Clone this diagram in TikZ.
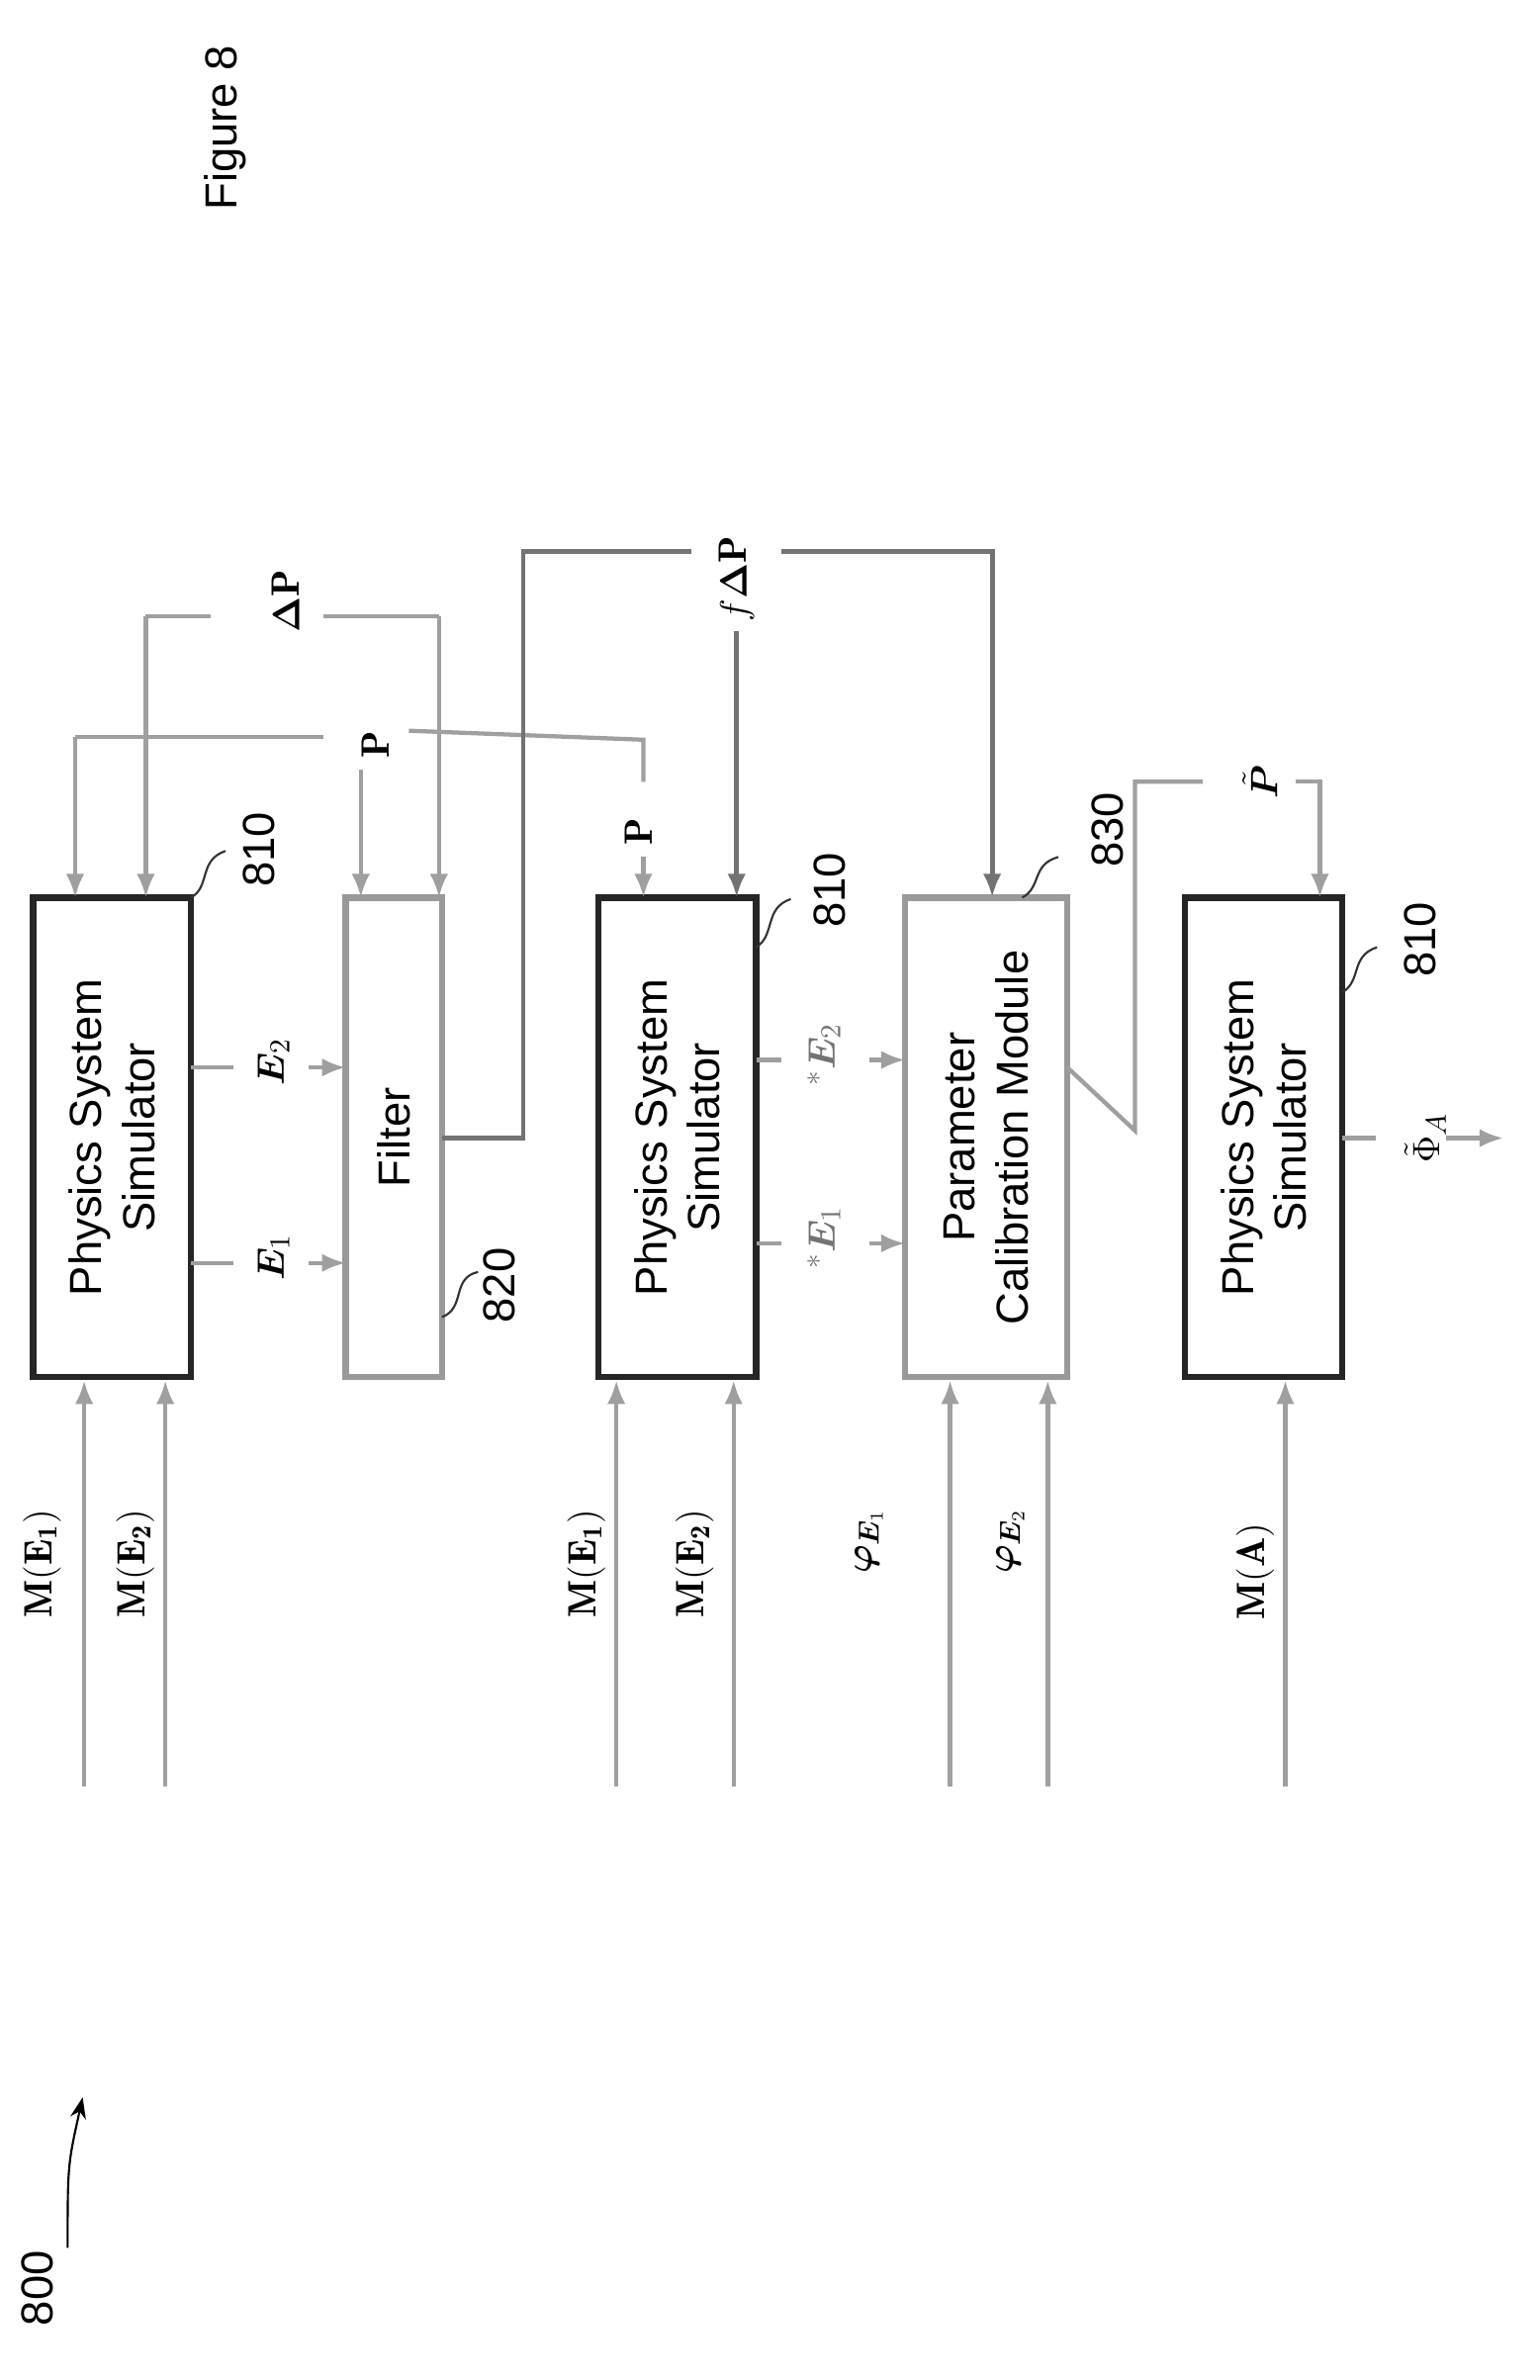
\documentclass[tikz,border=0pt]{standalone}
\usepackage{amsmath,bm}
\usepackage{fontspec}
\setsansfont{Liberation Sans}
\usetikzlibrary{positioning, arrows.meta}

\begin{document}
\begin{tikzpicture}[x=0.02cm, y=-0.02cm,
    sim/.style={draw=black!85, line width=2.4pt, rotate=90, minimum width=6.38cm, minimum height=2.1cm, font=\sffamily\fontsize{17}{20}\selectfont, align=center, inner sep=0pt},
    blk/.style={sim, draw=gray!80},
    arr/.style={-{Latex[length=9pt, width=7pt]}, line width=1.6pt, color=gray!75},
    ln/.style={line width=1.6pt, color=gray!75},
    dln/.style={line width=1.8pt, color=gray!90!black},
    lbl/.style={rotate=90, font=\fontsize{15}{18}\selectfont},
    num/.style={rotate=90, font=\sffamily\fontsize{17}{20}\selectfont},
    lead/.style={line width=0.8pt, black!80},
]
\useasboundingbox (0,0) rectangle (1024,1583);

% === blocks ===
\node[sim] at (74.5,756.5) (pss1) {Physics System\\Simulator};
\node[blk, minimum height=1.28cm] at (262,756.5) (filt) {Filter};
\node[sim] at (450.5,756.5) (pss2) {Physics System\\Simulator};
\node[blk, minimum height=2.16cm] at (656,756.5) (pcm) {Parameter\\Calibration Module};
\node[sim] at (840.5,756.5) (pss3) {Physics System\\Simulator};

% === reference numbers ===
\node[num] at (172,565) (n1) {810};
\node[num] at (332,855) (n2) {820};
\node[num] at (552,592) (n3) {810};
\node[num] at (737,552) (n4) {830};
\node[num] at (945,625) (n5) {810};
\node[num] at (25,1522) (n6) {800};
\node[num] at (150,85) (fig) {Figure 8};
\draw[lead] (127,597) .. controls (140,590) and (132,572) .. (150,566);
\draw[lead] (294,876) .. controls (310,870) and (300,850) .. (318,846);
\draw[lead] (503,630) .. controls (516,622) and (508,604) .. (526,598);
\draw[lead] (680,597) .. controls (693,590) and (686,575) .. (704,570);
\draw[lead] (893,660) .. controls (906,652) and (898,636) .. (916,630);
\coordinate (c800) at (45,1495);
\draw[-{Stealth[length=8pt]}, line width=0.8pt] (c800) .. controls (45,1440) .. (55,1395);

% === inputs ===
\foreach \x/\t/\lx in {56/E_1/28, 110/E_2/90} {
  \coordinate (m\x) at (\x,1188);
  \draw[arr] (m\x) -- (m\x |- pss1.west);
  \node[lbl] at (\lx,1040) {$\mathbf{M(\t)}$};
}
\foreach \x/\t/\lx in {410/E_1/390, 488/E_2/462} {
  \coordinate (m\x) at (\x,1188);
  \draw[arr] (m\x) -- (m\x |- pss2.west);
  \node[lbl] at (\lx,1040) {$\mathbf{M(\t)}$};
}
\foreach \x/\t/\lx in {632/1/578, 697/2/672} {
  \coordinate (m\x) at (\x,1188);
  \draw[arr] (m\x) -- (m\x |- pcm.west);
  \node[lbl] at (\lx,1025) {$\bm{\varphi}_{\bm{E}_{\t}}$};
}
\coordinate (ma) at (855,1188);
\draw[arr] (ma) -- (ma |- pss3.west);
\node[lbl] at (835,1045) {$\mathbf{M(A)}$};

% === P and Delta P ===
\node[lbl] at (250,495) (p1) {$\mathbf{P}$};
\node[lbl] at (425,553) (p2) {$\mathbf{P}$};
\node[lbl] at (190,400) (dp) {$\bm{\Delta}\mathbf{P}$};
\draw[ln] (215,490) -- (50,490);
\draw[arr] (50,490) -- (50,597);
\draw[ln] (272,486) -- (428,492) -- (428,520);
\draw[arr] (428,570) -- (428,597);
\draw[arr] (240,512) -- (240,597);
\draw[ln] (140,410) -- (97,410);
\draw[arr] (97,410) -- (97,597);
\draw[ln] (215,410) -- (292,410);
\draw[arr] (292,410) -- (292,597);

% === filter feedback ===
\node[lbl] at (490,385) (fdp) {$f\bm{\Delta}\mathbf{P}$};
\draw[dln] (294,757) -- (348,757) -- (348,367) -- (460,367);
\draw[dln, -{Latex[length=9pt, width=7pt]}] (520,367) -- (660,367) -- (660,597);
\draw[dln, -{Latex[length=9pt, width=7pt]}] (490,420) -- (490,597);

% === outputs ===
\foreach \y/\t in {710/2, 840/1} {
  \draw[ln] (127,\y) -- (155,\y);
  \draw[arr] (205,\y) -- (230,\y);
  \node[lbl] at (182,\y) {$\mathbf{\Phi}\bm{E}_{\t}$};
}
\foreach \y/\t in {705/2, 827/1} {
  \draw[ln] (503,\y) -- (520,\y);
  \draw[arr] (578,\y) -- (602,\y);
  \node[lbl, text=gray!90!black] at (548,\y) {$\mathbf{\Phi^{*}}\bm{E}_{\t}$};
}
\node[lbl] at (838,520) (pt) {$\tilde{\bm{P}}$};
\draw[ln] (710,710) -- (755,752) -- (755,520) -- (800,520);
\draw[arr] (862,520) -- (878,520) -- (878,597);
\node[lbl] at (948,757) (phia) {$\tilde{\Phi}_A$};
\draw[ln] (893,757) -- (915,757);
\draw[arr] (962,757) -- (1000,757);
\end{tikzpicture}
\end{document}
